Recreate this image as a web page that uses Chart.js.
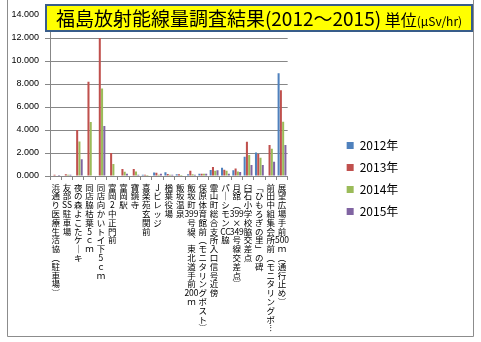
<!DOCTYPE html>
<html><head><meta charset="utf-8">
<script src="https://cdn.jsdelivr.net/npm/chart.js@4"></script>
<style>html,body{margin:0;padding:0;background:#fff;overflow:hidden}</style>
</head><body>
<canvas id="c" width="481" height="342"></canvas>
<script>
const categories = [
  '浜通り医療生活協（駐車場）',
  '友部SS駐車場',
  '夜の森よこたケーキ',
  '同店脇枯葉5ｃｍ',
  '同店向かいトイ下5ｃｍ',
  '富岡2中正門前',
  '富岡駅',
  '寶鏡寺',
  '喜楽苑玄関前',
  'Jビレッジ',
  '楢葉役場',
  '飯坂温泉',
  '飯坂町399号線、東北道手前200ｍ',
  '保原体育館前（モニタリングポスト）',
  '霊山町総合支所入口信号近傍',
  'パーシモンCC脇',
  '月舘（399×349号線交差点）',
  '臼石小学校脇交差点',
  '「ひもろぎの里」の碑',
  '前田中組集会所前（モニタリングポ…',
  '展望広場手前500ｍ（通行止め）'
];
const seriesNames = ['2012年', '2013年', '2014年', '2015年'];
const values2012 = [0.05, 0.05, null, null, null, null, 0.05, null, 0.10, 0.30, 0.32, 0.15, 0.15, 0.20, 0.52, 0.72, 0.50, 1.68, 2.05, null, 8.93];
const values2013 = [0.10, 0.15, 4.00, 8.20, 12.00, 2.00, 0.60, 0.60, 0.10, 0.28, 0.18, 0.15, 0.46, 0.20, 0.78, 0.55, 0.65, 2.98, 1.92, 2.70, 7.45];
const values2014 = [0.05, 0.10, 3.00, 4.70, 7.60, 1.05, 0.38, 0.40, 0.08, 0.10, 0.10, 0.08, 0.15, 0.20, 0.45, 0.45, 0.40, 1.83, 1.58, 2.36, 4.72];
const values2015 = [0.08, 0.10, 1.45, null, 4.35, null, 0.20, 0.10, 0.05, 0.20, 0.10, 0.05, 0.10, 0.20, 0.50, 0.20, 0.35, 0.95, 0.95, 1.25, 2.70];
const yMin = 0, yMax = 14, yStep = 2;
const titleMain = '福島放射能線量調査結果(2012〜2015)';
const titleUnitA = ' 単位';
const titleUnitB = '(μSv/hr)';

const colors = ['#4F81BD', '#C0504D', '#9BBB59', '#8064A2'];
const allValues = [values2012, values2013, values2014, values2015];

const VMAP = {'（':'︵','）':'︶','(':'︵',')':'︶','「':'﹁','」':'﹂','ー':'｜','…':'︙','、':'︑'};
function vertical(s) {
  const out = []; let run = '';
  for (const ch of s) {
    if (/[0-9A-Za-z]/.test(ch)) { run += ch; continue; }
    if (run) { out.push(run); run = ''; }
    out.push(VMAP[ch] || ch);
  }
  if (run) out.push(run);
  return out;
}

const GRID = '#878787';

const decor = {
  id: 'decor',
  afterDraw(chart) {
    const ctx = chart.ctx;
    ctx.save();
    ctx.strokeStyle = '#8c8c8c';
    ctx.lineWidth = 1;
    ctx.beginPath();
    ctx.moveTo(7.5, -2); ctx.lineTo(7.5, 336.5); ctx.lineTo(473.5, 336.5); ctx.lineTo(473.5, -2);
    ctx.stroke();
    ctx.fillStyle = '#FFFF00';
    ctx.fillRect(46, 5, 426, 26);
    ctx.strokeStyle = '#385D8A';
    ctx.lineWidth = 2;
    ctx.strokeRect(46, 5, 426, 26);
    const f1 = '19px "Noto Sans CJK JP"';
    const f2 = '16px "Noto Sans CJK JP"';
    const f3 = '12px "Noto Sans CJK JP"';
    ctx.font = f1; const w1 = ctx.measureText(titleMain).width;
    ctx.font = f2; const w2 = ctx.measureText(titleUnitA).width;
    ctx.font = f3; const w3 = ctx.measureText(titleUnitB).width;
    let x = 259 - (w1 + w2 + w3) / 2;
    const y = 19;
    ctx.fillStyle = '#000';
    ctx.textBaseline = 'middle';
    ctx.textAlign = 'left';
    ctx.font = f1; ctx.fillText(titleMain, x, y); x += w1;
    ctx.font = f2; ctx.fillText(titleUnitA, x, y + 1); x += w2;
    ctx.font = f3; ctx.fillText(titleUnitB, x, y + 2);
    ctx.restore();
  }
};

new Chart(document.getElementById('c'), {
  type: 'bar',
  data: {
    labels: categories.map(vertical),
    datasets: seriesNames.map((n, i) => ({
      label: n,
      data: allValues[i],
      backgroundColor: colors[i],
      borderWidth: 0,
      categoryPercentage: 0.8,
      barPercentage: 0.9
    }))
  },
  options: {
    responsive: false,
    animation: false,
    devicePixelRatio: 1,
    layout: { padding: { top: 15, left: 0, right: 77, bottom: 0 } },
    plugins: {
      title: { display: false },
      tooltip: { enabled: false },
      legend: {
        position: 'right',
        align: 'center',
        labels: {
          boxWidth: 7, boxHeight: 7, padding: 10, color: '#000',
          font: { family: '"Noto Sans CJK JP"', size: 12 }
        }
      }
    },
    scales: {
      x: {
        grid: { drawOnChartArea: false, drawTicks: true, tickLength: 4, color: GRID, offset: true },
        border: { color: GRID },
        ticks: {
          autoSkip: false, maxRotation: 0, minRotation: 0, padding: 3, color: '#000',
          font: { family: '"Noto Sans CJK JP"', size: 8.5, lineHeight: '8.8px' }
        },
        afterFit(s) { s.height = 166; }
      },
      y: {
        min: yMin, max: yMax,
        ticks: {
          stepSize: yStep, padding: 6, color: '#000',
          font: { family: '"Liberation Sans"', size: 9 },
          callback: v => Number(v).toFixed(3)
        },
        grid: { color: GRID, tickLength: 5, drawTicks: true },
        border: { color: GRID },
        afterFit(s) { s.width = 50; }
      },
      y2: {
        position: 'right',
        display: true,
        grid: { display: false },
        border: { display: false },
        ticks: { display: false },
        afterFit(s) { s.width = 49; }
      }
    }
  },
  plugins: [decor]
});
</script>
</body></html>
